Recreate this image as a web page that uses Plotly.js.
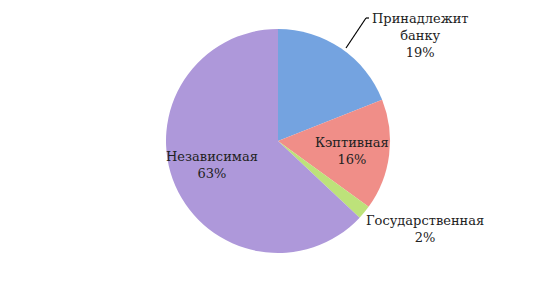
<!DOCTYPE html>
<html><head><meta charset="utf-8">
<script src="https://cdn.plot.ly/plotly-3.0.1.min.js"></script>
<style>html,body{margin:0;padding:0;background:#fff}#chart{width:550px;height:282px}</style>
</head><body><div id="chart"></div>
<script>
const categories = ['Принадлежит<br>банку', 'Кэптивная', 'Государственная', 'Независимая'];
const shares = [19, 16, 2, 63];
const colors = ['#74a3e0', '#f08e88', '#bde27a', '#ae98da'];
// label anchor positions (paper coords)
const labelX = [420/550, 352/550, 425/550, 212/550];
const labelY = [1-35/282, 1-151/282, 1-229/282, 1-165/282];

const font = {family: 'DejaVu Serif, Liberation Serif, serif', size: 13, color: '#222'};
const annotations = categories.map((c, i) => ({
  xref: 'paper', yref: 'paper', x: labelX[i], y: labelY[i],
  text: c + '<br>' + shares[i] + '%', showarrow: false, font: font,
  xanchor: 'center', yanchor: 'middle', align: 'center'
}));

Plotly.newPlot('chart', [{
  type: 'pie', values: shares, labels: categories, sort: false,
  direction: 'clockwise', rotation: 0, textinfo: 'none', hoverinfo: 'none',
  marker: {colors: colors, line: {color: '#ffffff', width: 0}},
  domain: {x: [166/550, 390/550], y: [28/282, 254/282]}
}], {
  width: 550, height: 282, margin: {l: 0, r: 0, t: 0, b: 0},
  paper_bgcolor: '#fff', showlegend: false, annotations: annotations,
  shapes: [
    {type: 'line', xref: 'paper', yref: 'paper',
     x0: 346/550, y0: 1-48/282, x1: 366/550, y1: 1-18/282,
     line: {color: '#000', width: 1.2}},
    {type: 'line', xref: 'paper', yref: 'paper',
     x0: 366/550, y0: 1-18/282, x1: 369/550, y1: 1-18/282,
     line: {color: '#000', width: 1.2}}
  ]
}, {staticPlot: true});
</script></body></html>
